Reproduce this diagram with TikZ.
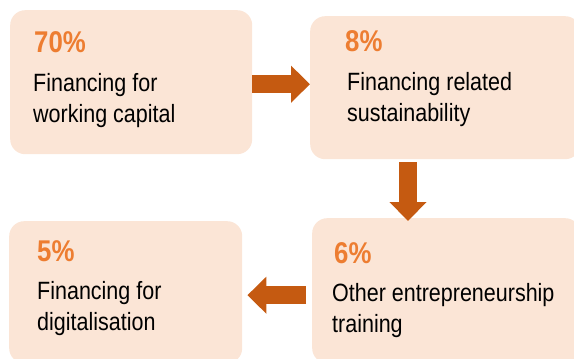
\documentclass[tikz,border=0pt]{standalone}
\usepackage{fontspec}
\setmainfont[FakeStretch=0.86]{Liberation Sans}
\usetikzlibrary{arrows.meta}
\definecolor{fondboite}{HTML}{FBE5D6}
\definecolor{orangeclair}{HTML}{ED7D31}
\definecolor{orangefonce}{HTML}{C55A11}
\begin{document}
\begin{tikzpicture}[x=1pt,y=1pt]
		\tikzstyle{boite}=[rectangle,rounded corners=15pt,fill=fondboite,inner sep=0pt,anchor=north west]
		\tikzstyle{pourcentage}=[anchor=base west,inner sep=0pt,text=orangeclair,font=\fontsize{30}{36}\selectfont\bfseries]
		\tikzstyle{texte}=[anchor=base west,inner sep=0pt,align=left,font=\fontsize{25}{31}\selectfont]
		\tikzstyle{fleche}=[orangefonce,line width=18pt,-{Triangle[length=19pt,width=36pt]}]
		\clip (0,0) rectangle (574,-359);
		% les quatre boites
		\node[boite,minimum width=242pt,minimum height=144pt] (b1) at (10,-10) {};
		\node[boite,minimum width=270pt,minimum height=143pt] (b2) at (310,-16) {};
		\node[boite,minimum width=233pt,minimum height=142pt] (b3) at (9,-221) {};
		\node[boite,minimum width=268pt,minimum height=145pt] (b4) at (312,-218) {};
		% pourcentages et libelles (base = derniere ligne)
		\node[pourcentage] (p1) at (34,-52) {70\%};
		\node[texte] (t1) at (33,-122) {Financing for\\working capital};
		\node[pourcentage] (p2) at (345,-51) {8\%};
		\node[texte] (t2) at (347,-121) {Financing related\\sustainability};
		\node[pourcentage] (p3) at (37,-261) {5\%};
		\node[texte] (t3) at (37,-330) {Financing for\\digitalisation};
		\node[pourcentage] (p4) at (334,-263) {6\%};
		\node[texte] (t4) at (332,-332) {Other entrepreneurship\\training};
		% fleches
		\coordinate (f1) at ([yshift=-2pt]b1.east);
		\coordinate (f2) at ([xshift=98pt]b2.south west);
		\coordinate (f3) at ([yshift=-4.5pt]b4.west);
		\draw[fleche] (f1)--(f1 -| b2.west);
		\draw[fleche,shorten <=3pt,shorten >=-3pt] (f2)--(f2 |- b4.north);
		\draw[fleche,shorten <=6pt,shorten >=5pt] (f3)--(f3 -| b3.east);
	\end{tikzpicture}
\end{document}
